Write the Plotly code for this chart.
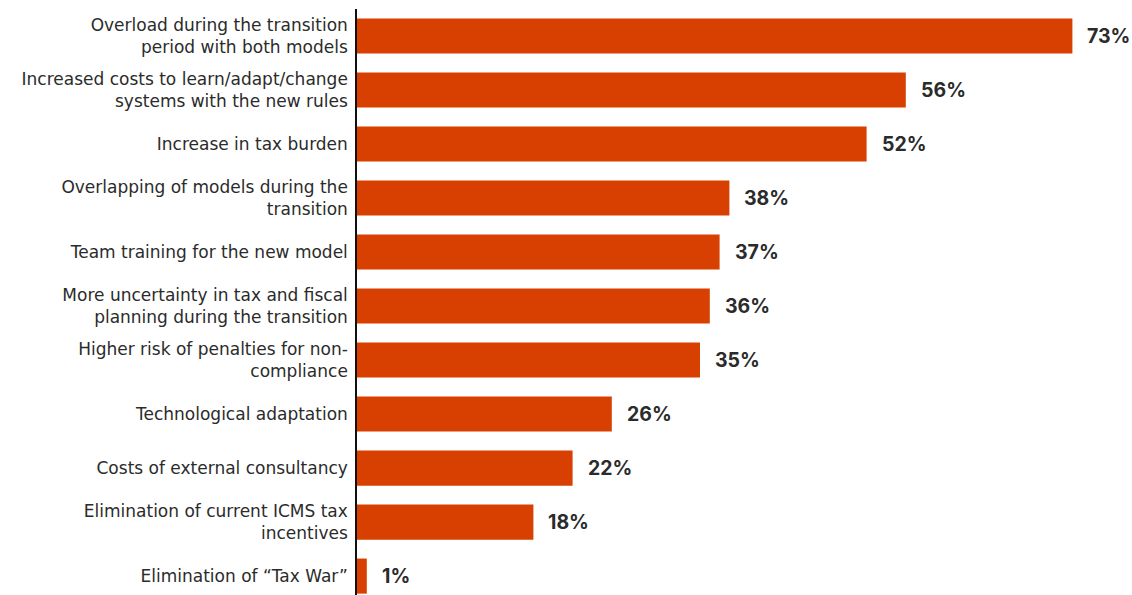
import plotly.graph_objects as go

categories = [
    "Overload during the transition<br>period with both models",
    "Increased costs to learn/adapt/change<br>systems with the new rules",
    "Increase in tax burden",
    "Overlapping of models during the<br>transition",
    "Team training for the new model",
    "More uncertainty in tax and fiscal<br>planning during the transition",
    "Higher risk of penalties for non-<br>compliance",
    "Technological adaptation",
    "Costs of external consultancy",
    "Elimination of current ICMS tax<br>incentives",
    "Elimination of “Tax War”",
]
values = [73, 56, 52, 38, 37, 36, 35, 26, 22, 18, 1]

BAR_COLOR = "#D74000"
TEXT_COLOR = "#2b2b2b"

fig = go.Figure(
    go.Bar(
        x=values,
        y=categories,
        orientation="h",
        marker=dict(color=BAR_COLOR, line=dict(width=0)),
        hoverinfo="skip",
    )
)

# value labels to the right of each bar
for cat, v in zip(categories, values):
    fig.add_annotation(
        x=v, y=cat, text=f"<b>{v}%</b>", showarrow=False,
        xanchor="left", xshift=13, yanchor="middle",
        font=dict(family="Inter", size=19.5, color=TEXT_COLOR),
    )

fig.update_layout(
    width=1132, height=595,
    margin=dict(l=357, r=40, t=9, b=0),
    paper_bgcolor="white", plot_bgcolor="white",
    bargap=0.35,
    showlegend=False,
    font=dict(family="DejaVu Sans", size=17, color=TEXT_COLOR),
)
fig.update_xaxes(range=[0, 75], visible=False, showgrid=False, zeroline=False)
fig.update_yaxes(
    range=[10.35, -0.5],
    showgrid=False, zeroline=False,
    showline=True, linecolor="#111111", linewidth=1.5,
    ticks="", ticklabelstandoff=4,
    tickfont=dict(family="DejaVu Sans", size=17, color=TEXT_COLOR),
)

fig.write_html("out.html")
